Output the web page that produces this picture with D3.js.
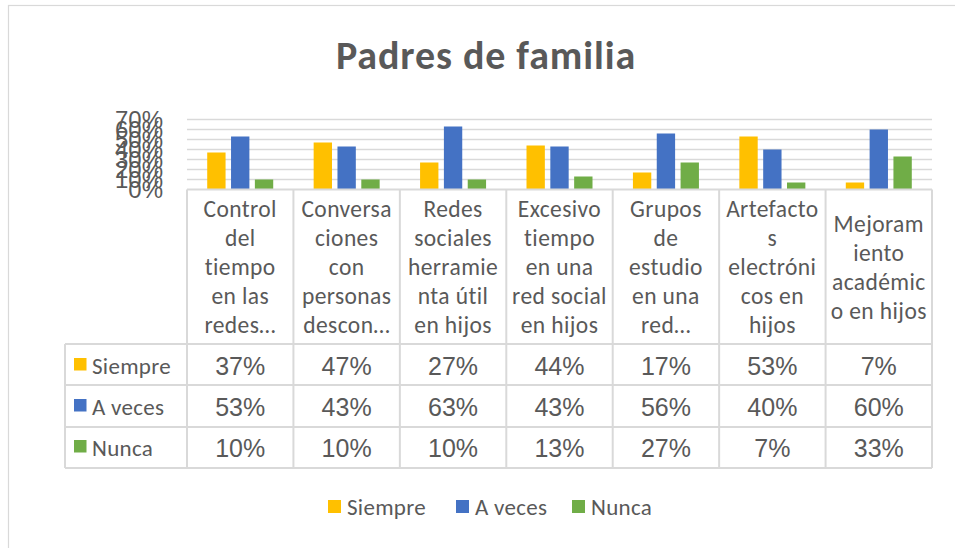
<!DOCTYPE html>
<html>
<head>
<meta charset="utf-8">
<script src="https://cdn.jsdelivr.net/npm/d3@7"></script>
<style>
  html, body { margin: 0; padding: 0; background: #fff; }
  svg { display: block; }
</style>
</head>
<body>
<svg id="chart" width="955" height="548"></svg>
<script>
// ---- data ----
const categoryLines = [
  ["Control", "del", "tiempo", "en las", "redes…"],
  ["Conversa", "ciones", "con", "personas", "descon…"],
  ["Redes", "sociales", "herramie", "nta útil", "en hijos"],
  ["Excesivo", "tiempo", "en una", "red social", "en hijos"],
  ["Grupos", "de", "estudio", "en una", "red…"],
  ["Artefacto", "s", "electróni", "cos en", "hijos"],
  ["Mejoram", "iento", "académic", "o en hijos"]
];
const seriesNames = ["Siempre", "A veces", "Nunca"];
const siempre = [0.37, 0.47, 0.27, 0.44, 0.17, 0.53, 0.07];
const aVeces  = [0.53, 0.43, 0.63, 0.43, 0.56, 0.40, 0.60];
const nunca   = [0.10, 0.10, 0.10, 0.13, 0.27, 0.07, 0.33];
const yTicks  = [0, 0.1, 0.2, 0.3, 0.4, 0.5, 0.6, 0.7];
const colors  = ["#FFC000", "#4472C4", "#70AD47"];
const chartTitle = "Padres de familia";

const seriesValues = [siempre, aVeces, nunca];
const catIdx = d3.range(categoryLines.length);

// ---- layout ----
const svg = d3.select("#chart");
const textColor = "#595959";
const gridColor = "#D9D9D9";
const wordFont = "Carlito, Lato, 'Open Sans', sans-serif";
const numFont = "'Liberation Sans', Arial, sans-serif";

const plotLeft = 187, plotRight = 932;
const plotTop = 119.5, plotBottom = 189.5;
const tableLeft = 65;
const rowEdges = [189.5, 344, 385, 427, 468];

// chart area outline
svg.append("rect")
  .attr("x", 8.5).attr("y", 5.5)
  .attr("width", 1000).attr("height", 1000)
  .attr("fill", "none").attr("stroke", gridColor).attr("stroke-width", 1.2);

// title
svg.append("text")
  .attr("x", 486).attr("y", 69)
  .attr("text-anchor", "middle")
  .attr("font-family", wordFont)
  .attr("font-weight", "bold")
  .attr("font-size", 40)
  .attr("letter-spacing", 0.9)
  .attr("fill", textColor)
  .text(chartTitle);

// scales
const x0 = d3.scaleBand().domain(catIdx).range([plotLeft, plotRight]).paddingInner(0).paddingOuter(0);
const x1 = d3.scaleBand().domain(d3.range(seriesNames.length)).range([-33, 33]).paddingInner(0.23).paddingOuter(0);
const y = d3.scaleLinear().domain([0, 0.7]).range([plotBottom, plotTop]);

// gridlines
svg.append("g")
  .selectAll("line")
  .data(yTicks.filter(t => t > 0))
  .join("line")
  .attr("x1", plotLeft).attr("x2", plotRight)
  .attr("y1", d => y(d)).attr("y2", d => y(d))
  .attr("stroke", gridColor).attr("stroke-width", 1.3);

// y axis labels
const yAxis = d3.axisLeft(y).tickValues(yTicks).tickFormat(d3.format(".0%")).tickSize(0).tickPadding(24);
const gy = svg.append("g").attr("transform", `translate(${plotLeft},0)`).call(yAxis);
gy.select(".domain").remove();
gy.selectAll("text")
  .attr("font-family", numFont)
  .attr("font-size", 24)
  .attr("fill", textColor);

// bars
const groups = svg.append("g")
  .selectAll("g")
  .data(catIdx)
  .join("g")
  .attr("transform", i => `translate(${x0(i) + x0.bandwidth() / 2},0)`);

groups.selectAll("rect")
  .data(i => seriesValues.map((vals, s) => ({ s, v: vals[i] })))
  .join("rect")
  .attr("x", d => x1(d.s))
  .attr("width", x1.bandwidth())
  .attr("y", d => y(d.v))
  .attr("height", d => y(0) - y(d.v))
  .attr("fill", d => colors[d.s]);

// data table grid
const tg = svg.append("g").attr("stroke", gridColor).attr("stroke-width", 2).attr("fill", "none");
tg.append("line").attr("x1", plotLeft).attr("x2", plotRight).attr("y1", rowEdges[0]).attr("y2", rowEdges[0]);
rowEdges.slice(1).forEach(ry => {
  tg.append("line").attr("x1", tableLeft).attr("x2", plotRight).attr("y1", ry).attr("y2", ry);
});
catIdx.concat([catIdx.length]).forEach(i => {
  const cx = i < catIdx.length ? x0(i) : plotRight;
  tg.append("line").attr("x1", cx).attr("x2", cx).attr("y1", rowEdges[0]).attr("y2", rowEdges[4]);
});
tg.append("line").attr("x1", tableLeft).attr("x2", tableLeft).attr("y1", rowEdges[1]).attr("y2", rowEdges[4]);

// category labels (wrapped)
const lineH = 29;
const headerMid = 275;
svg.append("g")
  .selectAll("text")
  .data(catIdx)
  .join("text")
  .attr("text-anchor", "middle")
  .attr("font-family", wordFont)
  .attr("font-size", 23.5)
  .attr("letter-spacing", 0.4)
  .attr("fill", textColor)
  .each(function (i) {
    const lines = categoryLines[i];
    const first = headerMid - (lines.length - 1) * lineH / 2;
    d3.select(this).selectAll("tspan")
      .data(lines)
      .join("tspan")
      .attr("x", x0(i) + x0.bandwidth() / 2)
      .attr("y", (d, k) => first + k * lineH)
      .text(d => d);
  });

// table rows: legend key + values
const rowBaselines = [375, 416, 457];
seriesNames.forEach((name, s) => {
  const rb = rowBaselines[s];
  svg.append("rect")
    .attr("x", 74).attr("y", rb - 17)
    .attr("width", 12.5).attr("height", 12.5)
    .attr("fill", colors[s]);
  svg.append("text")
    .attr("x", 92).attr("y", rb - 1)
    .attr("font-family", wordFont)
    .attr("font-size", 23)
    .attr("letter-spacing", 0.3)
    .attr("fill", textColor)
    .text(name);
  svg.append("g")
    .selectAll("text")
    .data(catIdx)
    .join("text")
    .attr("x", i => x0(i) + x0.bandwidth() / 2)
    .attr("y", rb)
    .attr("text-anchor", "middle")
    .attr("font-family", numFont)
    .attr("font-size", 25)
    .attr("fill", textColor)
    .text(i => d3.format(".0%")(seriesValues[s][i]));
});

// bottom legend
const legendX = [328, 456, 572];
const lg = svg.append("g");
seriesNames.forEach((name, s) => {
  lg.append("rect")
    .attr("x", legendX[s]).attr("y", 500)
    .attr("width", 13).attr("height", 13)
    .attr("fill", colors[s]);
  lg.append("text")
    .attr("x", legendX[s] + 19).attr("y", 515)
    .attr("font-family", wordFont)
    .attr("font-size", 23)
    .attr("letter-spacing", 0.3)
    .attr("fill", textColor)
    .text(name);
});
</script>
</body>
</html>
